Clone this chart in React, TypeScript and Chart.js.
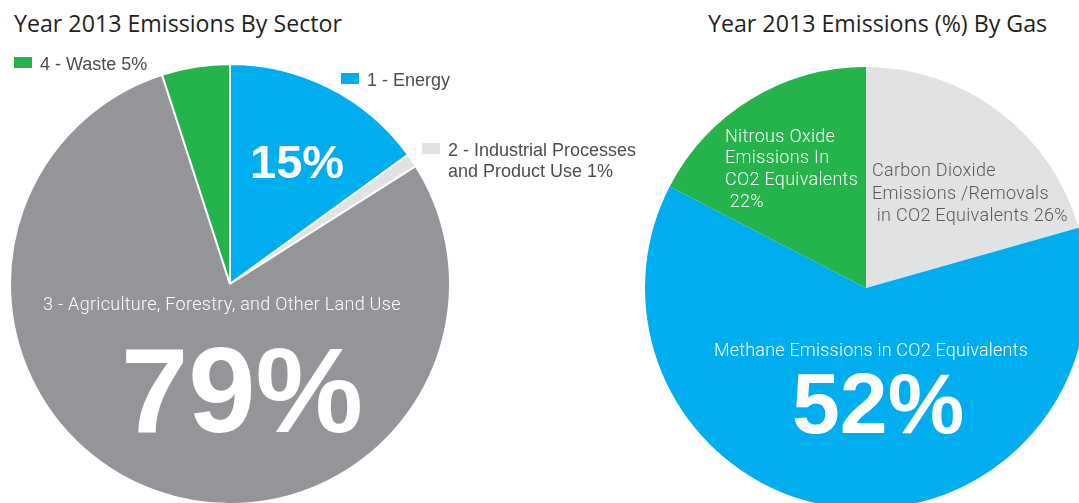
import React, { useEffect, useRef } from "react";
import { Chart, registerables } from "chart.js";

Chart.register(...registerables);

// ---- Data: Year 2013 Emissions By Sector ----
const sectorLabels = [
  "1 - Energy",
  "2 - Industrial Processes and Product Use",
  "3 - Agriculture, Forestry, and Other Land Use",
  "4 - Waste",
];
const sectorValues = [15, 1, 79, 5];
const sectorColors = ["#00aeef", "#e1e2e3", "#939598", "#25b34b"];

// ---- Data: Year 2013 Emissions (%) By Gas ----
const gasLabels = [
  "Carbon Dioxide Emissions /Removals in CO2 Equivalents",
  "Methane Emissions in CO2 Equivalents",
  "Nitrous Oxide Emissions In CO2 Equivalents",
];
// slice sizes as drawn in the picture
const gasValues = [20.6, 62.0, 17.4];
// percentages printed on the picture
const gasPercentText = ["26%", "52%", "22%"];
const gasColors = ["#e1e2e4", "#00aeef", "#25b34b"];

const TITLE_FONT = "'Open Sans', sans-serif";
const LABEL_FONT = "Roboto, sans-serif";
const BIG_FONT = "'Liberation Sans', Arial, sans-serif";

// baseline offset (fraction of font size) with line-height: 1
const BASE_K: Record<string, number> = {
  [TITLE_FONT]: 0.888,
  [LABEL_FONT]: 0.842,
  [BIG_FONT]: 0.8465,
};

type PieProps = {
  labels: string[];
  values: number[];
  colors: string[];
  borderWidth: number;
  size: number;
  left: number;
  top: number;
};

function PieChart({ labels, values, colors, borderWidth, size, left, top }: PieProps) {
  const ref = useRef<HTMLCanvasElement | null>(null);
  useEffect(() => {
    if (!ref.current) return;
    const chart = new Chart(ref.current, {
      type: "pie",
      data: {
        labels,
        datasets: [
          {
            data: values,
            backgroundColor: colors,
            borderColor: "#ffffff",
            borderWidth,
            hoverOffset: 0,
            offset: 0,
          },
        ],
      },
      options: {
        responsive: false,
        maintainAspectRatio: false,
        animation: false,
        devicePixelRatio: 1,
        events: [],
        layout: { padding: 0 },
        plugins: {
          legend: { display: false },
          tooltip: { enabled: false },
          title: { display: false },
        },
      },
    });
    return () => chart.destroy();
  }, []);
  return (
    <canvas
      ref={ref}
      width={size}
      height={size}
      style={{ position: "absolute", left, top, width: size, height: size }}
    />
  );
}

type TProps = {
  x: number;
  base: number;
  size: number;
  family: string;
  weight?: number;
  color: string;
  text: string;
  ls?: number;
};

function T({ x, base, size, family, weight = 400, color, text, ls = 0 }: TProps) {
  const k = BASE_K[family] ?? 0.85;
  return (
    <div
      style={{
        position: "absolute",
        left: x,
        top: base - k * size,
        fontFamily: family,
        fontSize: size,
        fontWeight: weight,
        lineHeight: 1,
        letterSpacing: ls,
        color,
        whiteSpace: "pre",
      }}
    >
      {text}
    </div>
  );
}

function Sq({ x, y, color }: { x: number; y: number; color: string }) {
  return (
    <div style={{ position: "absolute", left: x, top: y, width: 18, height: 11, background: color }} />
  );
}

export default function App() {
  const legendColor = "#4d4d4f";
  const LS = 0.3;
  const LSIZE = 18;
  return (
    <div
      style={{
        position: "fixed",
        left: 0,
        top: 0,
        width: 1079,
        height: 503,
        overflow: "hidden",
        background: "#ffffff",
      }}
    >
      <PieChart
        labels={sectorLabels}
        values={sectorValues}
        colors={sectorColors}
        borderWidth={2}
        size={442}
        left={9}
        top={63}
      />
      <PieChart
        labels={gasLabels}
        values={gasValues}
        colors={gasColors}
        borderWidth={0}
        size={442}
        left={645}
        top={67}
      />

      {/* Left chart texts */}
      <T x={14} base={33} size={23.2} family={TITLE_FONT} color="#231f20" text="Year 2013 Emissions By Sector" />
      <Sq x={14} y={57} color={sectorColors[3]} />
      <T x={40} base={70} size={18} family={BIG_FONT} color={legendColor} text={`${sectorLabels[3]} ${sectorValues[3]}%`} />
      <Sq x={341} y={73} color={sectorColors[0]} />
      <T x={367} base={86.5} size={18} family={BIG_FONT} color={legendColor} text={sectorLabels[0]} />
      <Sq x={422} y={143} color={sectorColors[1]} />
      <T x={448} base={156} size={18} family={BIG_FONT} color={legendColor} text="2 - Industrial Processes" />
      <T x={448} base={177} size={18} family={BIG_FONT} color={legendColor} text={`and Product Use ${sectorValues[1]}%`} />
      <T x={250} base={178} size={47} family={BIG_FONT} weight={700} color="#ffffff" text={`${sectorValues[0]}%`} />
      <T x={43} base={310} size={LSIZE} ls={LS} family={LABEL_FONT} weight={300} color="#ffffff" text={sectorLabels[2]} />
      <T x={121} base={432} size={121} family={BIG_FONT} weight={700} color="#ffffff" text={`${sectorValues[2]}%`} />

      {/* Right chart texts */}
      <T x={708} base={33} size={23.2} family={TITLE_FONT} color="#231f20" text="Year 2013 Emissions (%) By Gas" />
      <T x={725} base={142} size={LSIZE} ls={LS} family={LABEL_FONT} weight={300} color="#ffffff" text="Nitrous Oxide" />
      <T x={725} base={163.5} size={LSIZE} ls={LS} family={LABEL_FONT} weight={300} color="#ffffff" text="Emissions In" />
      <T x={725} base={185} size={LSIZE} ls={LS} family={LABEL_FONT} weight={300} color="#ffffff" text="CO2 Equivalents" />
      <T x={725} base={207} size={LSIZE} ls={LS} family={LABEL_FONT} weight={300} color="#ffffff" text={` ${gasPercentText[2]}`} />
      <T x={872} base={176.5} size={LSIZE} ls={LS} family={LABEL_FONT} weight={300} color="#58595b" text="Carbon Dioxide" />
      <T x={872} base={199} size={LSIZE} ls={LS} family={LABEL_FONT} weight={300} color="#58595b" text="Emissions /Removals" />
      <T x={872} base={221} size={LSIZE} ls={LS} family={LABEL_FONT} weight={300} color="#58595b" text={` in CO2 Equivalents ${gasPercentText[0]}`} />
      <T x={714} base={356} size={LSIZE} ls={0.2} family={LABEL_FONT} weight={300} color="#ffffff" text={gasLabels[1]} />
      <T x={792} base={433} size={86} family={BIG_FONT} weight={700} color="#ffffff" text={gasPercentText[1]} />
    </div>
  );
}
